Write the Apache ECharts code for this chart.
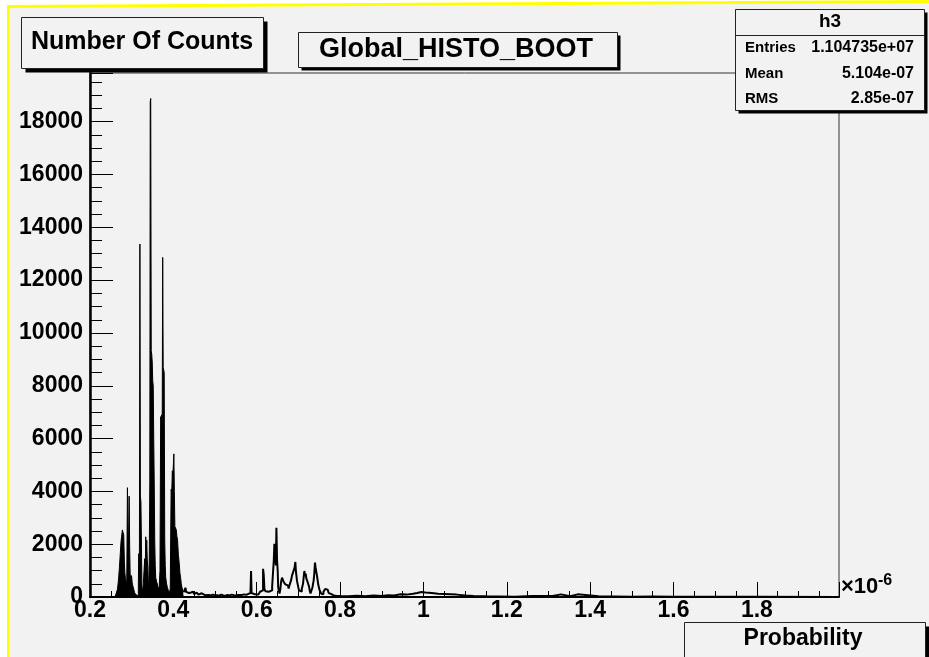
<!DOCTYPE html>
<html><head><meta charset="utf-8">
<script src="https://cdn.jsdelivr.net/npm/echarts@6/dist/echarts.min.js"></script>
<style>html,body{margin:0;padding:0;background:#fff;}#c{width:929px;height:657px;}</style>
</head><body><div id="c"></div>
<script>
const FONT = '"Liberation Sans", Arial, Helvetica, sans-serif';

// Histogram "Global_HISTO_BOOT" — bin left edges (x 1e-6) and counts, main cluster
const peakEdges = [0.2000,0.2600,0.2625,0.2660,0.2685,0.2705,0.2725,0.2744,0.2760,0.2776,0.2792,0.2809,0.2825,0.2837,0.2849,0.2865,0.2882,0.2898,0.2912,0.2925,0.2939,0.2951,0.2963,0.2980,0.2996,0.3012,0.3028,0.3048,0.3069,0.3100,0.3140,0.3160,0.3170,0.3185,0.3197,0.3209,0.3222,0.3234,0.3246,0.3262,0.3280,0.3296,0.3313,0.3325,0.3337,0.3350,0.3362,0.3374,0.3386,0.3398,0.3410,0.3422,0.3435,0.3445,0.3457,0.3469,0.3481,0.3493,0.3505,0.3517,0.3529,0.3541,0.3553,0.3565,0.3577,0.3595,0.3615,0.3638,0.3660,0.3679,0.3695,0.3707,0.3720,0.3732,0.3744,0.3756,0.3768,0.3780,0.3793,0.3805,0.3817,0.3838,0.3858,0.3880,0.3906,0.3925,0.3937,0.3947,0.3960,0.3975,0.3988,0.4000,0.4012,0.4024,0.4036,0.4052,0.4069,0.4085,0.4101,0.4120,0.4142,0.4158,0.4174,0.4190,0.4207,0.4228,0.4248];
const peakCounts = [0,40,120,300,680,1100,1600,2090,2300,2540,2450,2350,1320,900,740,600,490,4140,2600,1800,3820,2000,870,700,810,550,420,300,170,90,40,500,1640,900,13370,3820,3600,2000,380,200,500,1000,1450,900,2280,1800,2150,1400,1130,600,295,1500,4330,18760,18880,9330,9200,8900,8180,8000,6000,4330,2150,1200,740,600,490,300,400,1000,6830,6700,6900,6500,12860,8690,8600,8500,2150,1200,740,500,350,250,170,300,2500,4080,3900,4780,4600,5000,5420,4000,2670,2600,2550,2300,2150,1600,1260,900,740,500,350,250,180];

// Tail of the histogram
const tailEdges = [0.4248,0.4270,0.4290,0.4305,0.4330,0.4350,0.4375,0.4400,0.4425,0.4450,0.4475,0.4500,0.4530,0.4560,0.4600,0.4640,0.4680,0.4720,0.4760,0.4800,0.4850,0.4900,0.4950,0.5000,0.5050,0.5100,0.5150,0.5200,0.5250,0.5300,0.5350,0.5400,0.5450,0.5500,0.5560,0.5600,0.5650,0.5700,0.5750,0.5800,0.5850,0.5864,0.5876,0.5920,0.5960,0.6000,0.6040,0.6080,0.6120,0.6152,0.6168,0.6184,0.6210,0.6248,0.6290,0.6330,0.6370,0.6392,0.6410,0.6424,0.6436,0.6448,0.6460,0.6472,0.6488,0.6503,0.6515,0.6527,0.6547,0.6567,0.6587,0.6607,0.6627,0.6647,0.6667,0.6687,0.6707,0.6727,0.6747,0.6767,0.6787,0.6807,0.6827,0.6847,0.6867,0.6887,0.6907,0.6927,0.6939,0.6951,0.6967,0.6983,0.7000,0.7015,0.7047,0.7080,0.7111,0.7127,0.7143,0.7159,0.7175,0.7191,0.7207,0.7223,0.7239,0.7255,0.7271,0.7290,0.7303,0.7335,0.7366,0.7382,0.7398,0.7414,0.7430,0.7446,0.7462,0.7478,0.7494,0.7510,0.7526,0.7550,0.7574,0.7600,0.7622,0.7642,0.7662,0.7682,0.7702,0.7726,0.7750,0.7780,0.7806,0.7846,0.7890,0.7926,0.7980,0.8050,0.8200,0.8400,0.8600,0.8800,0.9000,0.9150,0.9300,0.9450,0.9600,0.9750,0.9850,0.9950,1.0050,1.0200,1.0350,1.0500,1.0650,1.0800,1.1000,1.1200,1.1500,1.1800,1.2200,1.2600,1.2900,1.3100,1.3300,1.3520,1.3700,1.4200,1.4600,1.5000,1.5500,1.6000,1.7000,1.8000,1.9970];
const tailCounts = [180,250,350,200,260,150,220,170,130,200,140,110,170,120,90,140,100,70,110,80,60,90,60,70,50,90,60,50,80,60,90,70,60,80,60,80,100,80,120,150,130,985,150,100,130,90,150,200,250,1070,850,300,220,200,180,250,400,950,1400,2020,1600,1650,1200,2620,1390,1000,380,250,130,300,600,730,650,570,520,480,450,440,380,320,450,500,650,820,900,1010,1100,1325,1000,950,600,570,350,250,200,300,500,750,985,800,880,700,630,560,500,400,250,130,150,350,630,900,1300,1100,950,800,630,450,350,250,200,120,100,200,250,300,350,280,250,150,120,60,60,60,40,40,30,30,50,30,60,40,70,60,100,90,120,150,190,170,150,120,110,100,90,60,40,25,20,10,40,40,40,100,30,100,30,20,10,20,10,5,5,0,0];

const xRange = [0.2, 1.997];
const yRange = [0, 19845];
const titleText = 'Global_HISTO_BOOT';
const yTitle = 'Number Of Counts';
const xTitle = 'Probability';
const statHeader = 'h3';
const statNames = ['Entries', 'Mean', 'RMS'];
const statValues = ['1.104735e+07', '5.104e-07', '2.85e-07'];

const peakData = peakEdges.map((e, i) => [e, peakCounts[i]]);
const tailData = tailEdges.map((e, i) => [e, tailCounts[i]]);

function txt(text, x, y, size, align, valign, z) {
  return {type:'text', z: z || 110, silent:true, style:{text:text, x:x, y:y, fill:'#000',
    font:'bold ' + size + 'px ' + FONT, align:align, textAlign:align, verticalAlign:valign, textVerticalAlign:valign}};
}
function boxWithShadow(x, y, w, h, off) {
  return [
    {type:'rect', z:100, silent:true, shape:{x:x+off, y:y+off, width:w, height:h}, style:{fill:'#000'}},
    {type:'rect', z:101, silent:true, shape:{x:x, y:y, width:w, height:h}, style:{fill:'#f2f2f2', stroke:'#222', lineWidth:1}}
  ];
}

const graphics = [
  {type:'polygon', z:-100, silent:true, shape:{points:[[9.5,8],[929,3],[929,657],[9.5,657]]}, style:{fill:'#f2f2f2'}},
  {type:'polygon', z:-99, silent:true, shape:{points:[[7,5],[929,0],[929,3],[9.5,8],[9.5,657],[7,657]]}, style:{fill:'#ffff00'}}
];
graphics.push(...boxWithShadow(21.5, 17.5, 242, 51, 4));
graphics.push(txt(yTitle, 142, 42, 25, 'center', 'middle'));
graphics.push(...boxWithShadow(298.5, 32.5, 319, 35, 3));
graphics.push(txt(titleText, 456, 50, 27, 'center', 'middle'));
graphics.push(...boxWithShadow(735.5, 9.5, 189, 101, 3));
graphics.push({type:'line', z:102, silent:true, shape:{x1:735.5, y1:35.5, x2:924.5, y2:35.5}, style:{stroke:'#222', lineWidth:1}});
graphics.push(txt(statHeader, 830, 22, 19, 'center', 'middle'));
const rowY = [47.5, 73.5, 98.5];
statNames.forEach((n, i) => {
  graphics.push(txt(n, 745, rowY[i], 15, 'left', 'middle'));
  graphics.push(txt(statValues[i], 914, rowY[i], 16, 'right', 'middle'));
});
graphics.push(...boxWithShadow(684.5, 622.5, 241, 36, 4));
graphics.push(txt(xTitle, 803, 639, 23, 'center', 'middle'));
graphics.push(txt('\u00d710', 841, 587, 22, 'left', 'middle'));
graphics.push(txt('-6', 878, 581, 16, 'left', 'middle'));

const chart = echarts.init(document.getElementById('c'), null, {renderer:'canvas'});
chart.setOption({
  animation:false,
  backgroundColor:'transparent',
  grid:{left:90, right:90, top:73, bottom:60, show:true, borderColor:'#333', borderWidth:1, backgroundColor:'transparent'},
  xAxis:{type:'value', min:xRange[0], max:xRange[1], interval:0.2,
    axisLine:{show:true, onZero:false, lineStyle:{color:'#000', width:2}},
    axisTick:{show:true, inside:true, length:15, lineStyle:{color:'#000', width:1}},
    minorTick:{show:true, splitNumber:4, length:6, lineStyle:{color:'#000', width:1}},
    splitLine:{show:false}, minorSplitLine:{show:false},
    axisLabel:{show:true, showMaxLabel:false, margin:2, color:'#000', fontSize:23, fontWeight:'bold', fontFamily:FONT,
      formatter:v => String(Number(v.toFixed(3)))}},
  yAxis:{type:'value', min:yRange[0], max:yRange[1], interval:2000,
    axisLine:{show:true, lineStyle:{color:'#000', width:2.5}},
    axisTick:{show:true, inside:true, length:23, lineStyle:{color:'#000', width:1}},
    minorTick:{show:true, splitNumber:4, length:12, lineStyle:{color:'#000', width:1}},
    splitLine:{show:false}, minorSplitLine:{show:false},
    axisLabel:{show:true, showMaxLabel:false, margin:7, color:'#000', fontSize:23, fontWeight:'bold', fontFamily:FONT,
      formatter:v => String(Math.round(v))}},
  series:[
    {type:'line', step:'end', data:peakData, symbol:'none', showSymbol:false, clip:true, z:3,
      lineStyle:{color:'#000', width:1}, areaStyle:{color:'#000', opacity:1, origin:'start'}},
    {type:'line', step:'end', data:tailData, symbol:'none', showSymbol:false, clip:true, z:3,
      lineStyle:{color:'#000', width:2}}
  ],
  graphic:{elements:graphics}
});
</script></body></html>
